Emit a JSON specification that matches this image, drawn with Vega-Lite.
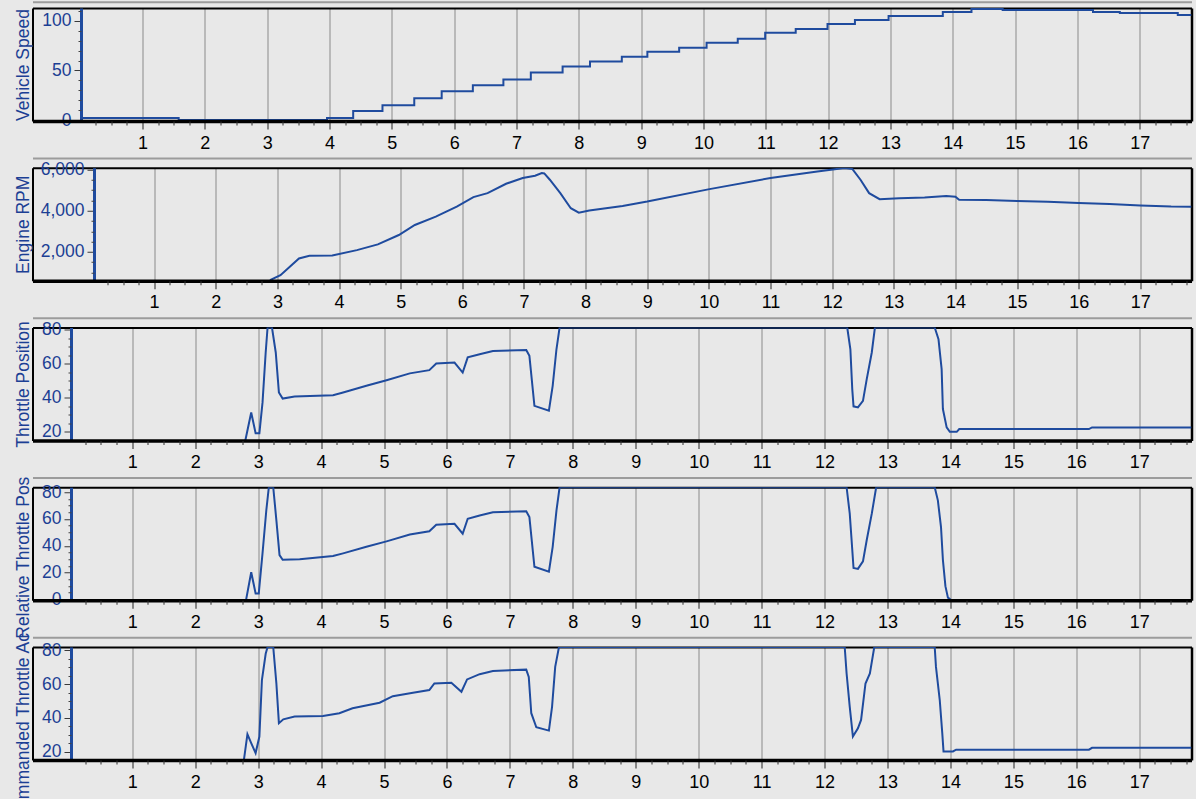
{
"$schema": "https://vega.github.io/schema/vega-lite/v6.json",
"padding": {"left": 13.5, "top": 1, "right": 4, "bottom": 4},
"background": "#e8e8e8",
"spacing": 46.75,
"bounds": "flush",
"config": {"view": {"stroke": null}, "axis": {"labelFont": "Liberation Sans", "titleFont": "Liberation Sans", "labelFontSize": 17, "grid": false, "tickColor": "#333333", "labelColor": "#000000"}},
"datasets": {
"speed": [{"t":0,"v":2},{"t":1.58,"v":0},{"t":3.96,"v":2},{"t":4.38,"v":9},{"t":4.85,"v":15},{"t":5.36,"v":22},{"t":5.8,"v":29},{"t":6.3,"v":35},{"t":6.79,"v":41},{"t":7.23,"v":48},{"t":7.74,"v":54},{"t":8.18,"v":59},{"t":8.69,"v":64},{"t":9.1,"v":69},{"t":9.61,"v":73},{"t":10.05,"v":78},{"t":10.55,"v":82},{"t":10.99,"v":88},{"t":11.48,"v":92},{"t":11.99,"v":97},{"t":12.43,"v":101},{"t":12.97,"v":105},{"t":13.84,"v":109},{"t":14.3,"v":112},{"t":14.8,"v":111},{"t":16.25,"v":109},{"t":16.68,"v":108},{"t":17.61,"v":106},{"t":17.83,"v":106}],
"rpm": [{"t":2.88,"v":620},{"t":3.05,"v":860},{"t":3.35,"v":1677},{"t":3.52,"v":1804},{"t":3.89,"v":1820},{"t":4.29,"v":2083},{"t":4.63,"v":2362},{"t":4.97,"v":2817},{"t":5.23,"v":3307},{"t":5.57,"v":3713},{"t":5.91,"v":4203},{"t":6.18,"v":4663},{"t":6.41,"v":4858},{"t":6.71,"v":5314},{"t":6.98,"v":5593},{"t":7.18,"v":5705},{"t":7.29,"v":5837},{"t":7.33,"v":5820},{"t":7.42,"v":5510},{"t":7.59,"v":4858},{"t":7.76,"v":4124},{"t":7.89,"v":3909},{"t":8.06,"v":4007},{"t":8.6,"v":4237},{"t":9.0,"v":4447},{"t":10.01,"v":5054},{"t":11.0,"v":5593},{"t":11.76,"v":5916},{"t":12.2,"v":6080},{"t":12.33,"v":6030},{"t":12.46,"v":5510},{"t":12.6,"v":4858},{"t":12.77,"v":4565},{"t":13.09,"v":4614},{"t":13.5,"v":4650},{"t":13.85,"v":4720},{"t":14.0,"v":4680},{"t":14.06,"v":4540},{"t":14.5,"v":4520},{"t":15.0,"v":4480},{"t":15.5,"v":4440},{"t":16.0,"v":4380},{"t":16.5,"v":4330},{"t":17.0,"v":4260},{"t":17.5,"v":4210},{"t":17.83,"v":4200}],
"thr": [{"t":2.78,"v":12},{"t":2.89,"v":31.4},{"t":2.96,"v":19.2},{"t":3.02,"v":19.2},{"t":3.07,"v":37.3},{"t":3.12,"v":66.7},{"t":3.15,"v":81.4},{"t":3.22,"v":81.4},{"t":3.28,"v":66.7},{"t":3.33,"v":43.2},{"t":3.39,"v":39.6},{"t":3.58,"v":40.8},{"t":4.19,"v":41.6},{"t":4.35,"v":43.2},{"t":4.72,"v":47.1},{"t":5.04,"v":50.4},{"t":5.41,"v":54.4},{"t":5.72,"v":56.3},{"t":5.83,"v":60.2},{"t":6.12,"v":60.8},{"t":6.25,"v":54.9},{"t":6.33,"v":63.8},{"t":6.52,"v":65.7},{"t":6.73,"v":67.6},{"t":7.26,"v":68.2},{"t":7.31,"v":64.7},{"t":7.39,"v":35.3},{"t":7.62,"v":32.4},{"t":7.68,"v":47.1},{"t":7.74,"v":68.6},{"t":7.79,"v":81.4},{"t":12.36,"v":81.4},{"t":12.41,"v":68.6},{"t":12.44,"v":45},{"t":12.46,"v":35},{"t":12.53,"v":34.4},{"t":12.61,"v":38.2},{"t":12.67,"v":51},{"t":12.75,"v":66.7},{"t":12.8,"v":81.4},{"t":13.75,"v":81.4},{"t":13.81,"v":74.5},{"t":13.86,"v":56.9},{"t":13.88,"v":33.4},{"t":13.94,"v":22.6},{"t":13.99,"v":20},{"t":14.1,"v":20},{"t":14.14,"v":21.6},{"t":16.2,"v":21.6},{"t":16.25,"v":22.6},{"t":17.83,"v":22.6}],
"rel": [{"t":2.81,"v":0},{"t":2.89,"v":20.2},{"t":2.96,"v":4.4},{"t":3.01,"v":4.4},{"t":3.07,"v":34.5},{"t":3.13,"v":66.5},{"t":3.17,"v":83.7},{"t":3.24,"v":83.7},{"t":3.29,"v":59},{"t":3.34,"v":33},{"t":3.39,"v":29.5},{"t":3.66,"v":30},{"t":4.19,"v":32.3},{"t":4.35,"v":34.3},{"t":4.72,"v":39.2},{"t":5.04,"v":43.3},{"t":5.41,"v":48.4},{"t":5.72,"v":50.8},{"t":5.83,"v":55.7},{"t":6.12,"v":56.4},{"t":6.25,"v":49},{"t":6.33,"v":60.2},{"t":6.52,"v":62.6},{"t":6.73,"v":65},{"t":7.26,"v":65.8},{"t":7.31,"v":61.4},{"t":7.39,"v":24.3},{"t":7.62,"v":20.7},{"t":7.68,"v":39.2},{"t":7.74,"v":66.3},{"t":7.79,"v":83.7},{"t":12.35,"v":83.7},{"t":12.4,"v":64},{"t":12.44,"v":37},{"t":12.46,"v":23.4},{"t":12.53,"v":22.7},{"t":12.61,"v":28.3},{"t":12.67,"v":44.3},{"t":12.75,"v":64},{"t":12.82,"v":83.7},{"t":13.75,"v":83.7},{"t":13.8,"v":73.9},{"t":13.85,"v":54},{"t":13.88,"v":29.5},{"t":13.92,"v":9.8},{"t":13.96,"v":1.2},{"t":14.0,"v":0}],
"cmd": [{"t":2.77,"v":14},{"t":2.83,"v":30.4},{"t":2.89,"v":25.1},{"t":2.96,"v":19.2},{"t":3.02,"v":29},{"t":3.06,"v":62.4},{"t":3.12,"v":78},{"t":3.15,"v":82},{"t":3.24,"v":82},{"t":3.29,"v":60.4},{"t":3.33,"v":36.9},{"t":3.4,"v":39.2},{"t":3.58,"v":40.8},{"t":4.03,"v":41.2},{"t":4.29,"v":42.8},{"t":4.5,"v":45.7},{"t":4.93,"v":49},{"t":5.14,"v":52.9},{"t":5.46,"v":54.9},{"t":5.72,"v":56.5},{"t":5.8,"v":60.4},{"t":6.07,"v":60.8},{"t":6.23,"v":55.5},{"t":6.32,"v":62.8},{"t":6.52,"v":65.9},{"t":6.73,"v":67.8},{"t":7.26,"v":68.6},{"t":7.3,"v":64.3},{"t":7.34,"v":42.8},{"t":7.42,"v":34.5},{"t":7.62,"v":32.5},{"t":7.67,"v":46.6},{"t":7.72,"v":70.2},{"t":7.78,"v":82},{"t":12.32,"v":82},{"t":12.35,"v":66.3},{"t":12.4,"v":46.6},{"t":12.45,"v":29},{"t":12.53,"v":33.9},{"t":12.58,"v":38.8},{"t":12.65,"v":60.4},{"t":12.72,"v":66.3},{"t":12.79,"v":82},{"t":13.75,"v":82},{"t":13.77,"v":70.2},{"t":13.83,"v":50.6},{"t":13.87,"v":31},{"t":13.89,"v":20.2},{"t":14.04,"v":20.2},{"t":14.09,"v":21.2},{"t":16.2,"v":21.2},{"t":16.25,"v":22.3},{"t":17.83,"v":22.3}]
},
"vconcat": [
{
"width": 1159, "height": 113,
"data": {"name": "speed"},
"resolve": {"axis": {"x": "independent", "y": "independent"}},
"layer": [
{"mark": {"type": "line", "clip": true, "interpolate": "step-after", "color": "#1f4b9e", "strokeWidth": 2},
 "encoding": {
 "x": {"field": "t", "type": "quantitative", "scale": {"domain": [-0.765, 17.83], "nice": false, "zero": false},
  "axis": {"orient": "bottom", "values": [1,2,3,4,5,6,7,8,9,10,11,12,13,14,15,16,17], "title": null, "domainColor": "#000000", "domainWidth": 3.5, "tickColor": "#222222", "tickSize": 8, "tickWidth": 1, "labelFontSize": 18, "labelColor": "#000000", "labelPadding": 5, "grid": false, "zindex": 1, "labelFlush": false}},
 "y": {"field": "v", "type": "quantitative", "scale": {"domain": [-1, 113.1], "nice": false, "zero": false},
  "axis": {"orient": "left", "offset": -48.5, "values": [0, 50, 100], "title": null, "domainColor": "#1f4b9e", "domainWidth": 3, "tickColor": "#3a3a3a", "tickSize": 7, "labelPadding": 3, "labelColor": "#1c3f94", "labelFontSize": 17.5, "grid": false}}
 }},
{"mark": {"type": "line", "opacity": 0},
 "encoding": {
 "x": {"field": "t", "type": "quantitative", "axis": {"orient": "top", "values": [1,2,3,4,5,6,7,8,9,10,11,12,13,14,15,16,17], "title": null, "domainColor": "#000000", "domainWidth": 2, "ticks": false, "labels": false, "grid": true, "gridColor": "#8a8a8a", "gridWidth": 1, "gridOpacity": 1}},
 "y": {"field": "v", "type": "quantitative", "axis": {"orient": "right", "title": null, "domainColor": "#000000", "domainWidth": 2.5, "ticks": false, "labels": false, "grid": false}}
 }},
{"mark": {"type": "line", "opacity": 0},
 "encoding": {
 "x": {"field": "t", "type": "quantitative", "axis": {"orient": "bottom", "values": [0.25,0.5,0.75,1.25,1.5,1.75,2.25,2.5,2.75,3.25,3.5,3.75,4.25,4.5,4.75,5.25,5.5,5.75,6.25,6.5,6.75,7.25,7.5,7.75,8.25,8.5,8.75,9.25,9.5,9.75,10.25,10.5,10.75,11.25,11.5,11.75,12.25,12.5,12.75,13.25,13.5,13.75,14.25,14.5,14.75,15.25,15.5,15.75,16.25,16.5,16.75,17.25,17.5,17.75], "title": null, "domain": false, "labels": false, "tickSize": 4, "tickColor": "#333333", "grid": false, "zindex": 1}},
 "y": {"field": "v", "type": "quantitative", "axis": {"orient": "left", "title": "Vehicle Speed", "titleColor": "#1c3f94", "titleFontSize": 17.5, "titleFontWeight": "normal", "titlePadding": 4, "titleBaseline": "alphabetic", "domainColor": "#000000", "domainWidth": 2, "ticks": false, "labels": false, "grid": false}}
 }},
{"mark": {"type": "line", "opacity": 0},
 "encoding": {
 "x": {"field": "t", "type": "quantitative", "axis": {"orient": "bottom", "offset": 37, "title": null, "domainColor": "#9c9c9c", "domainWidth": 2, "ticks": false, "labels": false, "grid": false}},
 "y": {"field": "v", "type": "quantitative", "axis": {"orient": "left", "offset": -48.5, "values": [10,20,30,40,60,70,80,90,110], "title": null, "domain": false, "labels": false, "tickSize": 3, "tickColor": "#444444", "grid": false}}
 }},
{"mark": {"type": "line", "opacity": 0},
 "encoding": {
 "x": {"field": "t", "type": "quantitative", "axis": {"orient": "top", "offset": 6.3, "title": null, "domainColor": "#9c9c9c", "domainWidth": 2, "ticks": false, "labels": false, "grid": false}},
 "y": {"field": "v", "type": "quantitative", "axis": null}
 }}
]
},
{
"width": 1159, "height": 113,
"data": {"name": "rpm"},
"resolve": {"axis": {"x": "independent", "y": "independent"}},
"layer": [
{"mark": {"type": "line", "clip": true, "color": "#1f4b9e", "strokeWidth": 2},
 "encoding": {
 "x": {"field": "t", "type": "quantitative", "scale": {"domain": [-0.973, 17.83], "nice": false, "zero": false},
  "axis": {"orient": "bottom", "values": [1,2,3,4,5,6,7,8,9,10,11,12,13,14,15,16,17], "title": null, "domainColor": "#000000", "domainWidth": 3.5, "tickColor": "#222222", "tickSize": 8, "tickWidth": 1, "labelFontSize": 18, "labelColor": "#000000", "labelPadding": 5, "grid": false, "zindex": 1, "labelFlush": false}},
 "y": {"field": "v", "type": "quantitative", "scale": {"domain": [590, 6095], "nice": false, "zero": false},
  "axis": {"orient": "left", "offset": -61.5, "values": [2000, 4000, 6000], "format": ",d", "title": null, "domainColor": "#1f4b9e", "domainWidth": 3, "tickColor": "#3a3a3a", "tickSize": 7, "labelPadding": 3, "labelColor": "#1c3f94", "labelFontSize": 17.5, "grid": false}}
 }},
{"mark": {"type": "line", "opacity": 0},
 "encoding": {
 "x": {"field": "t", "type": "quantitative", "axis": {"orient": "top", "values": [1,2,3,4,5,6,7,8,9,10,11,12,13,14,15,16,17], "title": null, "domainColor": "#000000", "domainWidth": 2, "ticks": false, "labels": false, "grid": true, "gridColor": "#8a8a8a", "gridWidth": 1, "gridOpacity": 1}},
 "y": {"field": "v", "type": "quantitative", "axis": {"orient": "right", "title": null, "domainColor": "#000000", "domainWidth": 2.5, "ticks": false, "labels": false, "grid": false}}
 }},
{"mark": {"type": "line", "opacity": 0},
 "encoding": {
 "x": {"field": "t", "type": "quantitative", "axis": {"orient": "bottom", "values": [0.25,0.5,0.75,1.25,1.5,1.75,2.25,2.5,2.75,3.25,3.5,3.75,4.25,4.5,4.75,5.25,5.5,5.75,6.25,6.5,6.75,7.25,7.5,7.75,8.25,8.5,8.75,9.25,9.5,9.75,10.25,10.5,10.75,11.25,11.5,11.75,12.25,12.5,12.75,13.25,13.5,13.75,14.25,14.5,14.75,15.25,15.5,15.75,16.25,16.5,16.75,17.25,17.5,17.75], "title": null, "domain": false, "labels": false, "tickSize": 4, "tickColor": "#333333", "grid": false, "zindex": 1}},
 "y": {"field": "v", "type": "quantitative", "axis": {"orient": "left", "title": "Engine RPM", "titleColor": "#1c3f94", "titleFontSize": 17.5, "titleFontWeight": "normal", "titlePadding": 4, "titleBaseline": "alphabetic", "domainColor": "#000000", "domainWidth": 2, "ticks": false, "labels": false, "grid": false}}
 }},
{"mark": {"type": "line", "opacity": 0},
 "encoding": {
 "x": {"field": "t", "type": "quantitative", "axis": {"orient": "bottom", "offset": 37, "title": null, "domainColor": "#9c9c9c", "domainWidth": 2, "ticks": false, "labels": false, "grid": false}},
 "y": {"field": "v", "type": "quantitative", "axis": {"orient": "left", "offset": -61.5, "values": [1000,1500,2500,3000,3500,4500,5000,5500], "title": null, "domain": false, "labels": false, "tickSize": 3, "tickColor": "#444444", "grid": false}}
 }}
]
},
{
"width": 1159, "height": 113,
"data": {"name": "thr"},
"resolve": {"axis": {"x": "independent", "y": "independent"}},
"layer": [
{"mark": {"type": "line", "clip": true, "color": "#1f4b9e", "strokeWidth": 2},
 "encoding": {
 "x": {"field": "t", "type": "quantitative", "scale": {"domain": [-0.585, 17.83], "nice": false, "zero": false},
  "axis": {"orient": "bottom", "values": [1,2,3,4,5,6,7,8,9,10,11,12,13,14,15,16,17], "title": null, "domainColor": "#000000", "domainWidth": 3.5, "tickColor": "#222222", "tickSize": 8, "tickWidth": 1, "labelFontSize": 18, "labelColor": "#000000", "labelPadding": 5, "grid": false, "zindex": 1, "labelFlush": false}},
 "y": {"field": "v", "type": "quantitative", "scale": {"domain": [14.9, 81.4], "nice": false, "zero": false},
  "axis": {"orient": "left", "offset": -38.5, "values": [20, 40, 60, 80], "title": null, "domainColor": "#1f4b9e", "domainWidth": 3, "tickColor": "#3a3a3a", "tickSize": 7, "labelPadding": 3, "labelColor": "#1c3f94", "labelFontSize": 17.5, "grid": false}}
 }},
{"mark": {"type": "line", "opacity": 0},
 "encoding": {
 "x": {"field": "t", "type": "quantitative", "axis": {"orient": "top", "values": [1,2,3,4,5,6,7,8,9,10,11,12,13,14,15,16,17], "title": null, "domainColor": "#000000", "domainWidth": 2, "ticks": false, "labels": false, "grid": true, "gridColor": "#8a8a8a", "gridWidth": 1, "gridOpacity": 1}},
 "y": {"field": "v", "type": "quantitative", "axis": {"orient": "right", "title": null, "domainColor": "#000000", "domainWidth": 2.5, "ticks": false, "labels": false, "grid": false}}
 }},
{"mark": {"type": "line", "opacity": 0},
 "encoding": {
 "x": {"field": "t", "type": "quantitative", "axis": {"orient": "bottom", "values": [0.25,0.5,0.75,1.25,1.5,1.75,2.25,2.5,2.75,3.25,3.5,3.75,4.25,4.5,4.75,5.25,5.5,5.75,6.25,6.5,6.75,7.25,7.5,7.75,8.25,8.5,8.75,9.25,9.5,9.75,10.25,10.5,10.75,11.25,11.5,11.75,12.25,12.5,12.75,13.25,13.5,13.75,14.25,14.5,14.75,15.25,15.5,15.75,16.25,16.5,16.75,17.25,17.5,17.75], "title": null, "domain": false, "labels": false, "tickSize": 4, "tickColor": "#333333", "grid": false, "zindex": 1}},
 "y": {"field": "v", "type": "quantitative", "axis": {"orient": "left", "title": "Throttle Position", "titleColor": "#1c3f94", "titleFontSize": 17.5, "titleFontWeight": "normal", "titlePadding": 4, "titleBaseline": "alphabetic", "domainColor": "#000000", "domainWidth": 2, "ticks": false, "labels": false, "grid": false}}
 }},
{"mark": {"type": "line", "opacity": 0},
 "encoding": {
 "x": {"field": "t", "type": "quantitative", "axis": {"orient": "bottom", "offset": 37, "title": null, "domainColor": "#9c9c9c", "domainWidth": 2, "ticks": false, "labels": false, "grid": false}},
 "y": {"field": "v", "type": "quantitative", "axis": {"orient": "left", "offset": -38.5, "values": [25,30,35,45,50,55,65,70,75], "title": null, "domain": false, "labels": false, "tickSize": 3, "tickColor": "#444444", "grid": false}}
 }}
]
},
{
"width": 1159, "height": 113,
"data": {"name": "rel"},
"resolve": {"axis": {"x": "independent", "y": "independent"}},
"layer": [
{"mark": {"type": "line", "clip": true, "color": "#1f4b9e", "strokeWidth": 2},
 "encoding": {
 "x": {"field": "t", "type": "quantitative", "scale": {"domain": [-0.585, 17.83], "nice": false, "zero": false},
  "axis": {"orient": "bottom", "values": [1,2,3,4,5,6,7,8,9,10,11,12,13,14,15,16,17], "title": null, "domainColor": "#000000", "domainWidth": 3.5, "tickColor": "#222222", "tickSize": 8, "tickWidth": 1, "labelFontSize": 18, "labelColor": "#000000", "labelPadding": 5, "grid": false, "zindex": 1, "labelFlush": false}},
 "y": {"field": "v", "type": "quantitative", "scale": {"domain": [-0.7, 83.7], "nice": false, "zero": false},
  "axis": {"orient": "left", "offset": -38.5, "values": [0, 20, 40, 60, 80], "title": null, "domainColor": "#1f4b9e", "domainWidth": 3, "tickColor": "#3a3a3a", "tickSize": 7, "labelPadding": 3, "labelColor": "#1c3f94", "labelFontSize": 17.5, "grid": false}}
 }},
{"mark": {"type": "line", "opacity": 0},
 "encoding": {
 "x": {"field": "t", "type": "quantitative", "axis": {"orient": "top", "values": [1,2,3,4,5,6,7,8,9,10,11,12,13,14,15,16,17], "title": null, "domainColor": "#000000", "domainWidth": 2, "ticks": false, "labels": false, "grid": true, "gridColor": "#8a8a8a", "gridWidth": 1, "gridOpacity": 1}},
 "y": {"field": "v", "type": "quantitative", "axis": {"orient": "right", "title": null, "domainColor": "#000000", "domainWidth": 2.5, "ticks": false, "labels": false, "grid": false}}
 }},
{"mark": {"type": "line", "opacity": 0},
 "encoding": {
 "x": {"field": "t", "type": "quantitative", "axis": {"orient": "bottom", "values": [0.25,0.5,0.75,1.25,1.5,1.75,2.25,2.5,2.75,3.25,3.5,3.75,4.25,4.5,4.75,5.25,5.5,5.75,6.25,6.5,6.75,7.25,7.5,7.75,8.25,8.5,8.75,9.25,9.5,9.75,10.25,10.5,10.75,11.25,11.5,11.75,12.25,12.5,12.75,13.25,13.5,13.75,14.25,14.5,14.75,15.25,15.5,15.75,16.25,16.5,16.75,17.25,17.5,17.75], "title": null, "domain": false, "labels": false, "tickSize": 4, "tickColor": "#333333", "grid": false, "zindex": 1}},
 "y": {"field": "v", "type": "quantitative", "axis": {"orient": "left", "title": "Relative Throttle Pos", "titleColor": "#1c3f94", "titleFontSize": 17.5, "titleFontWeight": "normal", "titlePadding": 4, "titleBaseline": "alphabetic", "titleAlign": "left", "titleY": 151, "domainColor": "#000000", "domainWidth": 2, "ticks": false, "labels": false, "grid": false}}
 }},
{"mark": {"type": "line", "opacity": 0},
 "encoding": {
 "x": {"field": "t", "type": "quantitative", "axis": {"orient": "bottom", "offset": 37, "title": null, "domainColor": "#9c9c9c", "domainWidth": 2, "ticks": false, "labels": false, "grid": false}},
 "y": {"field": "v", "type": "quantitative", "axis": {"orient": "left", "offset": -38.5, "values": [5,10,15,25,30,35,45,50,55,65,70,75], "title": null, "domain": false, "labels": false, "tickSize": 3, "tickColor": "#444444", "grid": false}}
 }}
]
},
{
"width": 1159, "height": 113,
"data": {"name": "cmd"},
"resolve": {"axis": {"x": "independent", "y": "independent"}},
"layer": [
{"mark": {"type": "line", "clip": true, "color": "#1f4b9e", "strokeWidth": 2},
 "encoding": {
 "x": {"field": "t", "type": "quantitative", "scale": {"domain": [-0.585, 17.83], "nice": false, "zero": false},
  "axis": {"orient": "bottom", "values": [1,2,3,4,5,6,7,8,9,10,11,12,13,14,15,16,17], "title": null, "domainColor": "#000000", "domainWidth": 3.5, "tickColor": "#222222", "tickSize": 8, "tickWidth": 1, "labelFontSize": 18, "labelColor": "#000000", "labelPadding": 5, "grid": false, "zindex": 1, "labelFlush": false}},
 "y": {"field": "v", "type": "quantitative", "scale": {"domain": [15.1, 82], "nice": false, "zero": false},
  "axis": {"orient": "left", "offset": -38.5, "values": [20, 40, 60, 80], "title": null, "domainColor": "#1f4b9e", "domainWidth": 3, "tickColor": "#3a3a3a", "tickSize": 7, "labelPadding": 3, "labelColor": "#1c3f94", "labelFontSize": 17.5, "grid": false}}
 }},
{"mark": {"type": "line", "opacity": 0},
 "encoding": {
 "x": {"field": "t", "type": "quantitative", "axis": {"orient": "top", "values": [1,2,3,4,5,6,7,8,9,10,11,12,13,14,15,16,17], "title": null, "domainColor": "#000000", "domainWidth": 2, "ticks": false, "labels": false, "grid": true, "gridColor": "#8a8a8a", "gridWidth": 1, "gridOpacity": 1}},
 "y": {"field": "v", "type": "quantitative", "axis": {"orient": "right", "title": null, "domainColor": "#000000", "domainWidth": 2.5, "ticks": false, "labels": false, "grid": false}}
 }},
{"mark": {"type": "line", "opacity": 0},
 "encoding": {
 "x": {"field": "t", "type": "quantitative", "axis": {"orient": "bottom", "values": [0.25,0.5,0.75,1.25,1.5,1.75,2.25,2.5,2.75,3.25,3.5,3.75,4.25,4.5,4.75,5.25,5.5,5.75,6.25,6.5,6.75,7.25,7.5,7.75,8.25,8.5,8.75,9.25,9.5,9.75,10.25,10.5,10.75,11.25,11.5,11.75,12.25,12.5,12.75,13.25,13.5,13.75,14.25,14.5,14.75,15.25,15.5,15.75,16.25,16.5,16.75,17.25,17.5,17.75], "title": null, "domain": false, "labels": false, "tickSize": 4, "tickColor": "#333333", "grid": false, "zindex": 1}},
 "y": {"field": "v", "type": "quantitative", "axis": {"orient": "left", "title": "Commanded Throttle Ac", "titleColor": "#1c3f94", "titleFontSize": 17.5, "titleFontWeight": "normal", "titlePadding": 4, "titleBaseline": "alphabetic", "titleAlign": "left", "titleY": 174, "domainColor": "#000000", "domainWidth": 2, "ticks": false, "labels": false, "grid": false}}
 }},
{"mark": {"type": "line", "opacity": 0},
 "encoding": {
 "x": {"field": "t", "type": "quantitative", "axis": null},
 "y": {"field": "v", "type": "quantitative", "axis": {"orient": "left", "offset": -38.5, "values": [25,30,35,45,50,55,65,70,75], "title": null, "domain": false, "labels": false, "tickSize": 3, "tickColor": "#444444", "grid": false}}
 }}
]
}
]
}
